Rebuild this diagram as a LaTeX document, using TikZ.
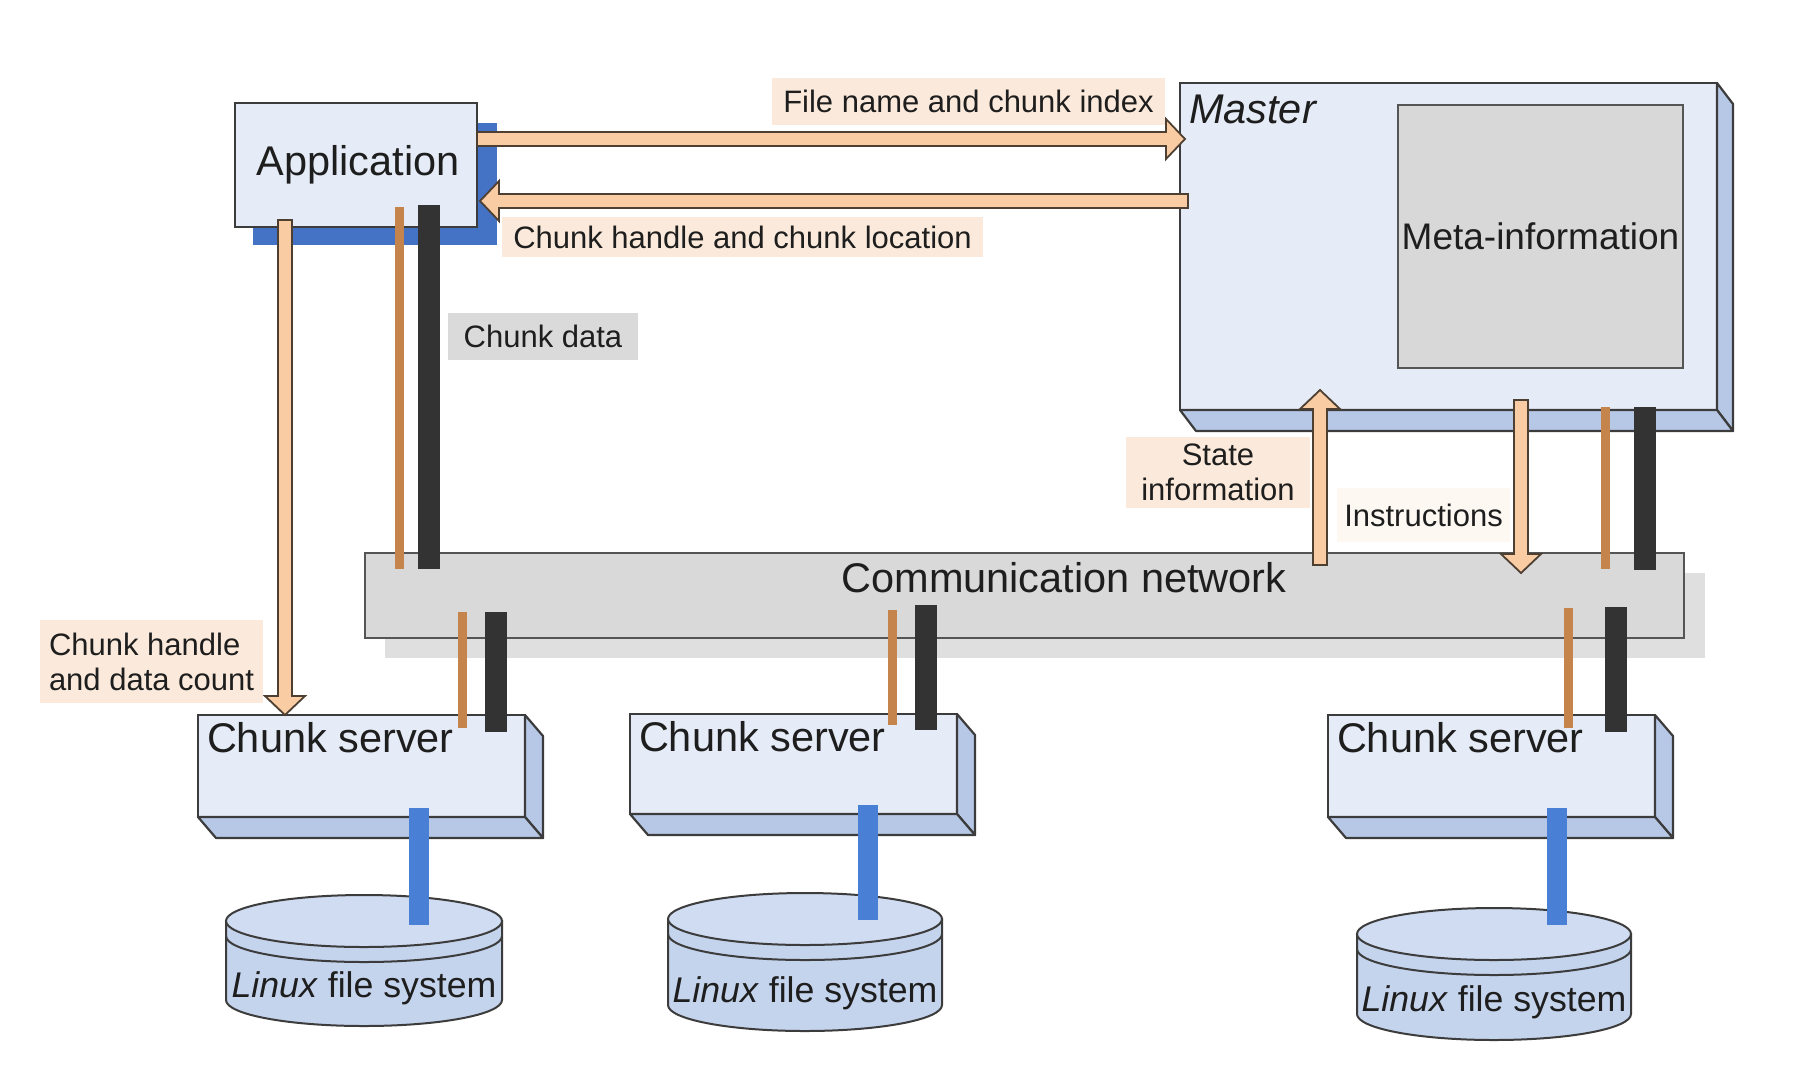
\documentclass[tikz,border=0pt]{standalone}
\usepackage{fontspec}
\setmainfont{Liberation Sans}
\usetikzlibrary{calc}
\definecolor{txt}{HTML}{1E1E1E}
\definecolor{edge}{HTML}{3C3C3C}
\definecolor{metaedge}{HTML}{555555}
\definecolor{frontc}{HTML}{E6ECF7}
\definecolor{sidec}{HTML}{B7C8E7}
\definecolor{appblue}{HTML}{4472C4}
\definecolor{metac}{HTML}{D8D8D8}
\definecolor{netc}{HTML}{D9D9D9}
\definecolor{netsh}{HTML}{DFDFDF}
\definecolor{peach}{HTML}{F9CCA3}
\definecolor{peachedge}{HTML}{4E3F33}
\definecolor{lblpeach}{HTML}{FBEADB}
\definecolor{lblgray}{HTML}{DADADA}
\definecolor{lblfaint}{HTML}{FDF8F2}
\definecolor{brownc}{HTML}{C4844C}
\definecolor{blackc}{HTML}{333333}
\definecolor{bluec}{HTML}{4A7FD6}
\definecolor{cylc}{HTML}{C5D4ED}
\definecolor{cyltopc}{HTML}{D0DCF1}
\newcommand{\fBig}{\fontsize{41.5}{48}\selectfont}
\newcommand{\fSmall}{\fontsize{31}{35}\selectfont}
\newcommand{\fMeta}{\fontsize{37}{42}\selectfont}
\newcommand{\fLin}{\fontsize{35.7}{40}\selectfont}
\newcommand{\boxfaces}[3]{%
  \draw[face] (#1.north east) -- ++(#2,#3) -- ([shift={(#2,#3)}]#1.south east) -- (#1.south east) -- cycle;
  \draw[face] (#1.south west) -- ++(#2,#3) -- ([shift={(#2,#3)}]#1.south east) -- (#1.south east) -- cycle;}
\newcommand{\blockarrow}[3]{%
  \coordinate (#3c) at ($(#2)!19pt!(#1)$);
  \draw[blockar] ($(#1)!7pt!90:(#2)$) -- ($(#3c)!7pt!-90:(#1)$) -- ($(#3c)!20pt!-90:(#1)$) -- (#2)
     -- ($(#3c)!20pt!90:(#1)$) -- ($(#3c)!7pt!90:(#1)$) -- ($(#1)!7pt!-90:(#2)$) -- cycle;}
\newcommand{\drawcyl}[5]{%
  \draw[cylbody] (#1-#4,#2) -- (#1-#4,#3) arc[start angle=180,end angle=0,x radius=#4,y radius=#5] -- (#1+#4,#2) -- cycle;
  \draw[cylline] (#1-#4,#2+15) arc[start angle=180,end angle=0,x radius=#4,y radius=#5];
  \draw[cyltopst] (#1,#2) ellipse[x radius=#4,y radius=#5];}
\begin{document}
\begin{tikzpicture}[x=1pt,y=-1pt,
  box/.style={draw=edge,line width=2.2pt,fill=frontc,inner sep=0pt,outer sep=0pt,rectangle},
  face/.style={draw=edge,line width=2.2pt,fill=sidec,line join=round},
  lblbg/.style={inner sep=0pt,outer sep=0pt,text=txt,font=\fSmall},
  txtnode/.style={inner sep=0pt,outer sep=0pt,text=txt},
  blockar/.style={draw=peachedge,fill=peach,line width=1.8pt,line join=miter},
  brownln/.style={draw=brownc,line width=9pt},
  blackln/.style={draw=blackc,line width=22pt},
  blueln/.style={draw=bluec,line width=20pt},
  cylbody/.style={draw=edge,line width=2pt,fill=cylc},
  cylline/.style={draw=edge,line width=2pt},
  cyltopst/.style={draw=edge,line width=2pt,fill=cyltopc}]
\fill[white] (0,0) rectangle (1794,1072);
\useasboundingbox (0,0) rectangle (1794,1072);

% labels
\node[lblbg,fill=lblpeach,minimum width=393pt,minimum height=47pt] (lfile) at (968.5,101.5) {File name and chunk index};
\node[lblbg,fill=lblpeach,minimum width=481pt,minimum height=40pt] (lloc) at (742.5,237) {Chunk handle and chunk location};
\node[lblbg,fill=lblgray,minimum width=190pt,minimum height=47pt] (ldata) at (543,336.5) {Chunk data};
\node[lblbg,fill=lblpeach,minimum width=184pt,minimum height=71pt,align=center] (lstate) at (1218,472.5) {State\\information};
\node[lblbg,fill=lblfaint,minimum width=173pt,minimum height=54pt] (linstr) at (1423.5,515) {Instructions};
\node[lblbg,fill=lblpeach,minimum height=83pt,inner xsep=9pt,align=left,anchor=west] (lcount) at (40,661.5) {Chunk handle\\and data count};

% application
\node[fill=appblue,minimum width=244pt,minimum height=122pt,anchor=north west,inner sep=0pt,outer sep=0pt] (appsh) at (253,123) {};
\node[box,minimum width=242pt,minimum height=124pt,anchor=north west] (app) at (235,103) {};
\node[txtnode,font=\fBig,anchor=base] (apptxt) at (358,175) {Application};

% master
\node[box,minimum width=537pt,minimum height=327pt,anchor=north west] (master) at (1180,83) {};
\boxfaces{master}{16}{21}
\node[txtnode,font=\fBig\itshape,anchor=base west] (mastertxt) at (1189,123) {Master};
\node[draw=metaedge,line width=2.5pt,fill=metac,minimum width=285pt,minimum height=263pt,anchor=north west,inner sep=0pt,outer sep=0pt,font=\fMeta,text=txt] (meta) at (1398,105) {Meta-information};

% network
\node[fill=netsh,minimum width=1320pt,minimum height=85pt,anchor=north west,inner sep=0pt,outer sep=0pt] (netshadow) at (385,573) {};
\node[draw=metaedge,line width=2.5pt,fill=netc,minimum width=1319pt,minimum height=85pt,anchor=north west,inner sep=0pt,outer sep=0pt] (net) at (365,553) {};
\node[txtnode,font=\fBig,anchor=base] (nettxt) at (1064,592) {Communication network};

% chunk servers
\node[box,minimum width=327pt,minimum height=102pt,anchor=north west] (cs1) at (198,715) {};
\boxfaces{cs1}{18}{21}
\node[txtnode,font=\fBig,anchor=base west] (cs1t) at (207,752) {Chunk server};
\node[box,minimum width=327pt,minimum height=100pt,anchor=north west] (cs2) at (630,714) {};
\boxfaces{cs2}{18}{21}
\node[txtnode,font=\fBig,anchor=base west] (cs2t) at (639,751) {Chunk server};
\node[box,minimum width=327pt,minimum height=102pt,anchor=north west] (cs3) at (1328,715) {};
\boxfaces{cs3}{18}{21}
\node[txtnode,font=\fBig,anchor=base west] (cs3t) at (1337,752) {Chunk server};

% cylinders
\drawcyl{364}{921}{1000}{138}{26}
\node[txtnode,font=\fLin,anchor=base] (fs1) at (364,997) {\textit{Linux} file system};
\drawcyl{805}{919}{1005}{137}{26}
\node[txtnode,font=\fLin,anchor=base] (fs2) at (805,1002) {\textit{Linux} file system};
\drawcyl{1494}{934}{1014}{137}{26}
\node[txtnode,font=\fLin,anchor=base] (fs3) at (1494,1011) {\textit{Linux} file system};

% blue links chunk server -> file system
\coordinate (b1a) at (419,808); \coordinate (b1b) at (419,925);
\coordinate (b2a) at (868,805); \coordinate (b2b) at (868,920);
\coordinate (b3a) at (1557,808); \coordinate (b3b) at (1557,925);
\draw[blueln] (b1a) -- (b1b);
\draw[blueln] (b2a) -- (b2b);
\draw[blueln] (b3a) -- (b3b);

% brown / black links
\coordinate (ab1) at (399,207); \coordinate (ab2) at (399,569);
\coordinate (ak1) at (429,205); \coordinate (ak2) at (429,569);
\coordinate (c1b1) at (462,612); \coordinate (c1b2) at (462,728);
\coordinate (c1k1) at (496,612); \coordinate (c1k2) at (496,732);
\coordinate (c2b1) at (892,610); \coordinate (c2b2) at (892,725);
\coordinate (c2k1) at (926,605); \coordinate (c2k2) at (926,730);
\coordinate (c3b1) at (1568,608); \coordinate (c3b2) at (1568,728);
\coordinate (c3k1) at (1616,607); \coordinate (c3k2) at (1616,732);
\coordinate (mb1) at (1605,407); \coordinate (mb2) at (1605,569);
\coordinate (mk1) at (1645,407); \coordinate (mk2) at (1645,570);
\draw[brownln] (ab1) -- (ab2);
\draw[blackln] (ak1) -- (ak2);
\draw[brownln] (c1b1) -- (c1b2);
\draw[blackln] (c1k1) -- (c1k2);
\draw[brownln] (c2b1) -- (c2b2);
\draw[blackln] (c2k1) -- (c2k2);
\draw[brownln] (c3b1) -- (c3b2);
\draw[blackln] (c3k1) -- (c3k2);
\draw[brownln] (mb1) -- (mb2);
\draw[blackln] (mk1) -- (mk2);

% block arrows
\coordinate (a1s) at (app.east |- 0,139); \coordinate (a1e) at (1185,139);
\coordinate (a2s) at (1188,201); \coordinate (a2e) at (480,201);
\coordinate (a3s) at (285,220); \coordinate (a3e) at (cs1.north -| 285,0);
\coordinate (a4s) at (1320,565); \coordinate (a4e) at (1320,390);
\coordinate (a5s) at (1521,400); \coordinate (a5e) at (1521,573);
\blockarrow{a1s}{a1e}{a1}
\blockarrow{a2s}{a2e}{a2}
\blockarrow{a3s}{a3e}{a3}
\blockarrow{a4s}{a4e}{a4}
\blockarrow{a5s}{a5e}{a5}
\end{tikzpicture}
\end{document}
